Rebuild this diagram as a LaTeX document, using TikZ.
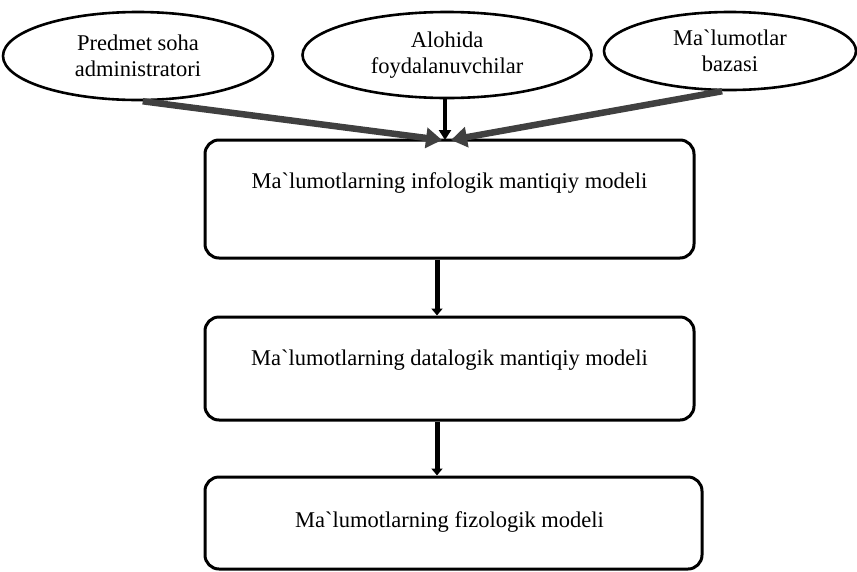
\documentclass[tikz,border=0pt]{standalone}
\usepackage{fontspec}
\setmainfont{Liberation Serif}
\usetikzlibrary{shapes.geometric,arrows.meta}
\tikzset{
  src/.style={draw, line width=2.6pt, ellipse, inner sep=0pt, align=center,
    font=\fontsize{22.5}{26.5}\selectfont},
  stage/.style={draw, line width=3pt, rounded corners=14pt, inner sep=0pt},
  lbl/.style={font=\fontsize{22.5}{27}\selectfont, inner sep=0pt},
  feed/.style={line width=6.5pt, draw=black!75, -{Triangle[length=16pt,width=20pt]}},
  down/.style={line width=5pt, -{Triangle[length=7pt,width=11pt]}},
}
\begin{document}
\begin{tikzpicture}[x=1pt, y=-1pt]
\useasboundingbox (0,0) rectangle (857,571);

% source ellipses
\node[src, minimum width=270pt, minimum height=88pt] (e1) at (138,56)
  {Predmet soha\\administratori};
\node[src, minimum width=289pt, minimum height=86pt] (e2) at (447,55)
  {Alohida\\foydalanuvchilar};
\node[src, minimum width=252pt, minimum height=78pt] (e3) at (730,51)
  {Ma\textasciigrave lumotlar\\bazasi};

% model stages
\node[stage, minimum width=489pt, minimum height=118pt] (b1) at (449.5,199) {};
\node[stage, minimum width=489pt, minimum height=103pt] (b2) at (449.5,368.5) {};
\node[stage, minimum width=497pt, minimum height=92pt] (b3) at (453.5,523) {};

\node[lbl] (t1) at (449.5,183) {Ma\textasciigrave lumotlarning infologik mantiqiy modeli};
\node[lbl] (t2) at (449.5,360) {Ma\textasciigrave lumotlarning datalogik mantiqiy modeli};
\node[lbl] (t3) at (449.5,522) {Ma\textasciigrave lumotlarning fizologik modeli};

% connectors
\coordinate (m1) at (442,140);
\coordinate (m3) at (451,140);
\draw[feed] (e1.-84) -- (m1);
\draw[feed] (e3.-101) -- (m3);
\draw[line width=4.5pt, -{Triangle[length=10pt,width=12pt]}] (e2.south -| 445,0) -- (445,140);
\draw[down] (b1.south -| 437,0) -- (b2.north -| 437,0);
\draw[down] (b2.south -| 437,0) -- (b3.north -| 437,0);
\end{tikzpicture}
\end{document}
